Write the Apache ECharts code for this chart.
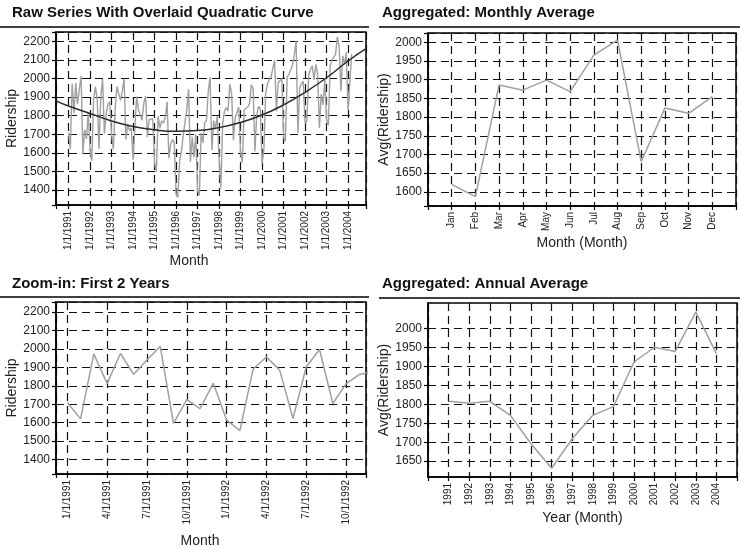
<!DOCTYPE html>
<html><head><meta charset="utf-8">
<script src="https://cdn.jsdelivr.net/npm/echarts@6/dist/echarts.min.js"></script>
<style>html,body{margin:0;padding:0;background:#fff}#c{width:740px;height:549px}</style>
</head><body><div id="c"></div><script>
// ---- data ----
const startYear = 1991;
const ridership = [
 1708.9,1620.6,1972.7,1811.7,1975.0,1862.4,1939.9,2013.3,1595.7,1724.9,1675.7,1813.9,
 1614.8,1557.1,1891.2,1956.0,1884.7,1623.0,1903.3,1996.7,1703.9,1810.0,1861.6,1875.1,
 1705.3,1618.5,1836.7,1957.0,1917.2,1882.4,1933.0,1996.2,1672.8,1752.8,1720.4,1734.3,
 1563.4,1574.0,1902.6,1833.9,1831.0,1775.8,1867.5,1906.6,1685.6,1778.5,1776.0,1783.4,
 1548.4,1496.9,1798.3,1732.9,1772.3,1761.2,1791.7,1874.8,1571.3,1646.9,1672.6,1656.8,
 1381.8,1360.9,1558.6,1608.4,1696.7,1693.2,1835.5,1942.6,1551.4,1686.5,1576.2,1700.4,
 1396.6,1371.7,1707.5,1654.6,1762.9,1775.8,1934.2,2008.1,1615.9,1773.9,1732.4,1796.6,
 1570.3,1412.7,1754.6,1824.9,1843.3,1826.0,1968.2,1921.6,1669.6,1791.5,1816.7,1846.8,
 1599.4,1548.8,1832.3,1839.7,1846.5,1864.9,1965.7,1949.0,1607.4,1803.7,1850.3,1836.4,
 1541.7,1616.9,1919.5,1971.5,1992.3,2009.8,2054.0,2097.5,1823.7,1977.0,1981.4,2000.2,
 1683.1,1663.4,2007.9,2023.8,2047.0,2072.9,2126.7,2202.6,1707.7,1950.7,1973.6,1984.7,
 1759.6,1770.6,2019.9,2048.4,2068.8,1994.3,2075.3,2026.6,1734.2,1916.8,1858.3,1996.4,
 1778.0,1749.5,2066.5,2098.9,2104.9,2129.7,2223.3,2174.4,1931.4,2121.5,2076.1,2140.7,
 1831.5,1838.0,2132.4
];
// quadratic trend curve, read at month offsets from Jan 1991
const curveMonths = [-7, 0, 12, 24, 36, 48, 60, 72, 84, 96, 108, 120, 132, 144, 156, 166];
const curveValues = [1880, 1852, 1812, 1772, 1742, 1724, 1716, 1720, 1736, 1764, 1804, 1858, 1926, 2004, 2094, 2160];
const zoomMonthCount = 24;
const monthNames = ['Jan','Feb','Mar','Apr','May','Jun','Jul','Aug','Sep','Oct','Nov','Dec'];
const monthlyAvg = [1620, 1587, 1886, 1872, 1899, 1868, 1966, 2006, 1681, 1824, 1810, 1855];
const years = [1991,1992,1993,1994,1995,1996,1997,1998,1999,2000,2001,2002,2003,2004];
const annualAvg = [1808, 1803, 1808, 1771, 1696, 1631, 1709, 1771, 1794, 1912, 1951, 1940, 2044, 1934];
const annualTicks = [1650, 1700, 1750, 1800, 1850, 1900, 1950, 2000];

// ---- chart ----
const FF = '"Liberation Sans", Arial, Helvetica, sans-serif';
const GRID_LINE = { color: '#111', width: 1.2, type: [8, 5] };

function xAx(gridIndex, min, max, step, fmt, name, nameGap, namePad) {
  return {
    type: 'value', gridIndex, min, max, minInterval: step, maxInterval: step,
    splitNumber: Math.round((max - min) / step),
    axisLine: { show: true, onZero: false, lineStyle: { color: '#000', width: 1.5 } },
    axisTick: { show: true, length: 4, lineStyle: { color: '#000', width: 1.2 } },
    axisLabel: { rotate: 90, fontSize: 10, color: '#222', margin: 6, formatter: fmt, fontFamily: FF,
                 showMinLabel: true, showMaxLabel: true },
    splitLine: { show: true, lineStyle: GRID_LINE },
    name, nameLocation: 'middle', nameGap,
    nameTextStyle: { fontSize: 14, color: '#222', fontFamily: FF, padding: namePad || 0 }
  };
}
function yAx(gridIndex, min, max, step, name, nameGap, custom) {
  const ax = {
    type: 'value', gridIndex, min, max, minInterval: step, maxInterval: step,
    splitNumber: Math.round((max - min) / step),
    axisLine: { show: true, onZero: false, lineStyle: { color: '#000', width: 1.5 } },
    axisTick: { show: true, length: 4, lineStyle: { color: '#000', width: 1.2 } },
    axisLabel: { fontSize: 12, color: '#222', margin: 6, fontFamily: FF,
                 formatter: v => (Math.abs(v % step) < 1e-6 ? String(v) : '') },
    splitLine: { show: true, lineStyle: GRID_LINE },
    name, nameLocation: 'middle', nameGap,
    nameTextStyle: { fontSize: 14, color: '#222', fontFamily: FF }
  };
  if (custom) { ax.axisTick.customValues = custom; ax.axisLabel.customValues = custom; }
  return ax;
}
const gridBase = { show: true, borderColor: '#000', borderWidth: 1.5, backgroundColor: 'transparent' };
const TITLE_FONT = 'bold 15px ' + FF;

const option = {
  animation: false,
  backgroundColor: '#fff',
  grid: [
    Object.assign({ left: 56, top: 32, width: 310, height: 173 }, gridBase),
    Object.assign({ left: 428, top: 33, width: 308, height: 173 }, gridBase),
    Object.assign({ left: 56, top: 302, width: 310, height: 172 }, gridBase),
    Object.assign({ left: 428, top: 303, width: 309, height: 174 }, gridBase)
  ],
  xAxis: [
    xAx(0, -7, 166, 12, v => (v >= 0 && v % 12 === 0) ? '1/1/' + (startYear + v / 12) : '', 'Month', 48, [0, 44, 0, 0]),
    xAx(1, -1, 12, 1, v => monthNames[v] || '', 'Month (Month)', 30),
    xAx(2, -0.85, 22.5, 3, v => (v >= 0 && v % 3 === 0) ? ((v % 12) + 1) + '/1/' + (startYear + Math.floor(v / 12)) : '', 'Month', 60, [0, 22, 0, 0]),
    xAx(3, 1990, 2005, 1, v => (v >= years[0] && v <= years[years.length - 1]) ? String(v) : '', 'Year (Month)', 34)
  ],
  yAxis: [
    yAx(0, 1320, 2250, 100, 'Ridership', 35),
    yAx(1, 1562, 2025, 50, 'Avg(Ridership)', 34),
    yAx(2, 1322, 2254, 100, 'Ridership', 37),
    yAx(3, 1608, 2068, 50, 'Avg(Ridership)', 35, annualTicks)
  ],
  series: [
    { type: 'line', xAxisIndex: 0, yAxisIndex: 0, symbol: 'none', clip: true,
      lineStyle: { color: '#a0a0a0', width: 1.4 },
      data: ridership.map((v, i) => [i, v]) },
    { type: 'line', xAxisIndex: 0, yAxisIndex: 0, symbol: 'none', smooth: true, clip: true,
      lineStyle: { color: '#2b2b2b', width: 1.5 },
      data: curveMonths.map((m, i) => [m, curveValues[i]]) },
    { type: 'line', xAxisIndex: 1, yAxisIndex: 1, symbol: 'none', clip: true,
      lineStyle: { color: '#a0a0a0', width: 1.5 },
      data: monthlyAvg.map((v, i) => [i, v]) },
    { type: 'line', xAxisIndex: 2, yAxisIndex: 2, symbol: 'none', clip: true,
      lineStyle: { color: '#a0a0a0', width: 1.5 },
      data: ridership.slice(0, zoomMonthCount).map((v, i) => [i, v]) },
    { type: 'line', xAxisIndex: 3, yAxisIndex: 3, symbol: 'none', clip: true,
      lineStyle: { color: '#a0a0a0', width: 1.5 },
      data: years.map((y, i) => [y, annualAvg[i]]) }
  ],
  graphic: [
    { type: 'text', left: 12, top: 5, style: { text: 'Raw Series With Overlaid Quadratic Curve', font: TITLE_FONT, fill: '#111' } },
    { type: 'line', shape: { x1: 0, y1: 27, x2: 369, y2: 27 }, style: { stroke: '#000', lineWidth: 1.5 } },
    { type: 'text', left: 382, top: 5, style: { text: 'Aggregated: Monthly Average', font: TITLE_FONT, fill: '#111' } },
    { type: 'line', shape: { x1: 379, y1: 27, x2: 740, y2: 27 }, style: { stroke: '#000', lineWidth: 1.5 } },
    { type: 'text', left: 12, top: 276, style: { text: 'Zoom-in: First 2 Years', font: TITLE_FONT, fill: '#111' } },
    { type: 'line', shape: { x1: 0, y1: 297, x2: 369, y2: 297 }, style: { stroke: '#000', lineWidth: 1.5 } },
    { type: 'text', left: 382, top: 276, style: { text: 'Aggregated: Annual Average', font: TITLE_FONT, fill: '#111' } },
    { type: 'line', shape: { x1: 379, y1: 298, x2: 740, y2: 298 }, style: { stroke: '#000', lineWidth: 1.5 } }
  ]
};
const chart = echarts.init(document.getElementById('c'), null, { renderer: 'canvas' });
chart.setOption(option);
</script></body></html>
